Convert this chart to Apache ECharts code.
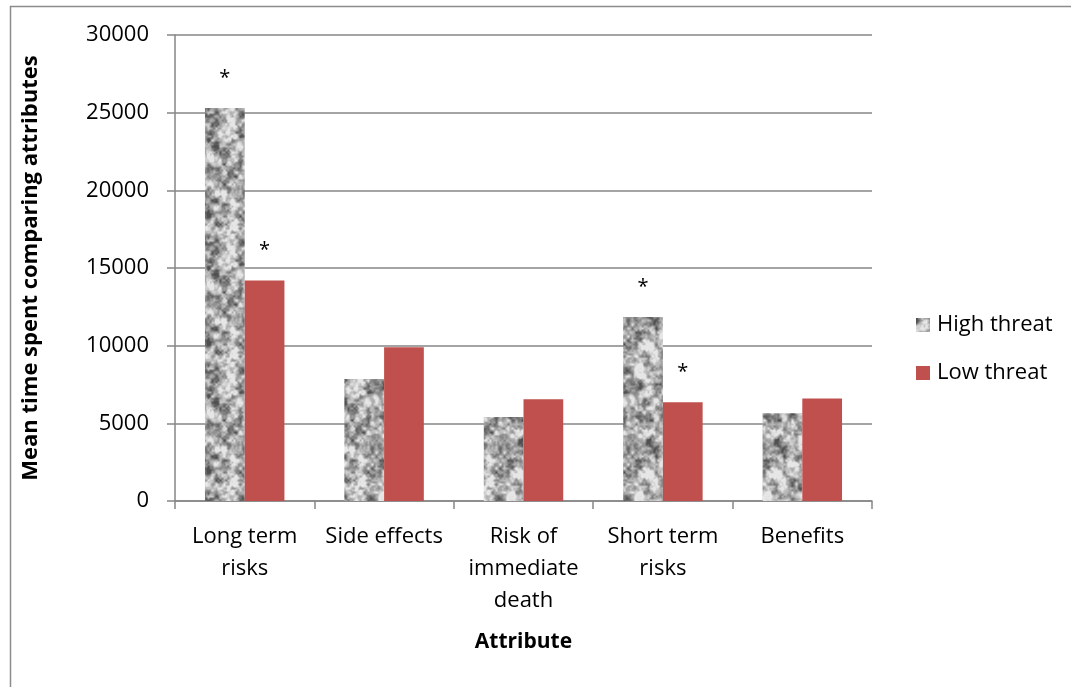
<!DOCTYPE html>
<html>
<head>
<meta charset="utf-8">
<script src="https://cdn.jsdelivr.net/npm/echarts@6/dist/echarts.min.js"></script>
<style>
  html, body { margin: 0; padding: 0; background: #fff; }
  #chart { width: 1071px; height: 687px; }
</style>
</head>
<body>
<div id="chart"></div>
<script>
// Attributes compared and mean comparison time per threat condition
const categories = ['Long term\nrisks', 'Side effects', 'Risk of\nimmediate\ndeath', 'Short term\nrisks', 'Benefits'];
const highThreat = [25300, 7850, 5400, 11850, 5650];
const lowThreat = [14200, 9900, 6550, 6350, 6600];
// Bars flagged as significant (drawn with an asterisk)
const highSignificant = [true, false, false, true, false];
const lowSignificant = [true, false, false, true, false];
const yTicks = { min: 0, max: 30000, interval: 5000 };

const FONT = '"Open Sans", "Noto Sans", sans-serif';

// Granite-like fill texture built from tileable value noise
function graniteTile(size) {
  const c = document.createElement('canvas');
  c.width = size; c.height = size;
  const ctx = c.getContext('2d');
  const img = ctx.createImageData(size, size);
  function hash(x, y, s) {
    let h = Math.imul(x + 17, 374761393) ^ Math.imul(y + 91, 668265263) ^ Math.imul(s, 1442695041);
    h = Math.imul(h ^ (h >>> 13), 1274126177);
    h = Math.imul(h ^ (h >>> 15), 2246822519);
    h = h ^ (h >>> 16);
    return (h >>> 0) / 4294967295;
  }
  function smooth(t) { return t * t * (3 - 2 * t); }
  function noise(px, py, cell, seed) {
    const n = size / cell;
    const gx = px / cell, gy = py / cell;
    const x0 = Math.floor(gx), y0 = Math.floor(gy);
    const fx = smooth(gx - x0), fy = smooth(gy - y0);
    const x1 = (x0 + 1) % n, y1 = (y0 + 1) % n;
    const a = hash(x0 % n, y0 % n, seed), b = hash(x1, y0 % n, seed);
    const cc = hash(x0 % n, y1, seed), d = hash(x1, y1, seed);
    return (a * (1 - fx) + b * fx) * (1 - fy) + (cc * (1 - fx) + d * fx) * fy;
  }
  for (let y = 0; y < size; y++) {
    for (let x = 0; x < size; x++) {
      let v = 0.45 * noise(x, y, 8, 1) + 0.35 * noise(x, y, 4, 2) + 0.2 * noise(x, y, 2, 3);
      v = (v - 0.5) * 2.0 + 0.58;
      v = Math.max(0, Math.min(1, v));
      const g = Math.round(80 + v * 150);
      const i = (y * size + x) * 4;
      img.data[i] = g; img.data[i + 1] = g; img.data[i + 2] = g; img.data[i + 3] = 255;
    }
  }
  ctx.putImageData(img, 0, 0);
  return c;
}
const granite = { image: graniteTile(128), repeat: 'repeat' };

function withStars(values, flags) {
  return values.map((v, i) => flags[i]
    ? { value: v, label: { show: true, formatter: '*', position: 'top', distance: 20,
        fontFamily: FONT, fontSize: 20, color: '#000' } }
    : v);
}

const chart = echarts.init(document.getElementById('chart'), null, { renderer: 'canvas' });
chart.setOption({
  backgroundColor: '#fff',
  animation: false,
  graphic: [{
    type: 'rect', left: 8, top: 4,
    shape: { width: 1100, height: 720 },
    style: { fill: 'none', stroke: '#8c8c8c', lineWidth: 1.5 },
    silent: true, z: -1
  }],
  grid: { left: 175, right: 199, top: 35, bottom: 186, containLabel: false },
  legend: {
    orient: 'vertical', left: 911, top: 308,
    itemWidth: 14, itemHeight: 14, itemGap: 24,
    icon: 'rect',
    textStyle: { fontFamily: FONT, fontSize: 22, color: '#000', lineHeight: 24, padding: [0, 0, 0, 2] },
    data: ['High threat', 'Low threat']
  },
  xAxis: {
    type: 'category', data: categories,
    name: 'Attribute', nameLocation: 'middle', nameGap: 131,
    nameTextStyle: { fontFamily: FONT, fontSize: 21, fontWeight: 'bold', color: '#000' },
    axisLine: { lineStyle: { color: '#868686', width: 1.5 } },
    axisTick: { show: true, length: 8, lineStyle: { color: '#868686', width: 1.5 } },
    axisLabel: { fontFamily: FONT, fontSize: 22, color: '#000', lineHeight: 32, margin: 20, interval: 0 }
  },
  yAxis: {
    type: 'value', min: yTicks.min, max: yTicks.max, interval: yTicks.interval,
    name: 'Mean time spent comparing attributes', nameLocation: 'middle', nameGap: 133,
    nameTextStyle: { fontFamily: FONT, fontSize: 22, fontWeight: 'bold', color: '#000' },
    axisLine: { show: true, lineStyle: { color: '#868686', width: 1.5 } },
    axisTick: { show: true, length: 8, lineStyle: { color: '#868686', width: 1.5 } },
    axisLabel: { fontFamily: FONT, fontSize: 22, color: '#000', margin: 26,
      formatter: v => String(v) },
    splitLine: { lineStyle: { color: '#868686', width: 1.5 } }
  },
  series: [
    {
      name: 'High threat', type: 'bar', barGap: '0%', barCategoryGap: '43%',
      itemStyle: { color: granite },
      data: withStars(highThreat, highSignificant)
    },
    {
      name: 'Low threat', type: 'bar', barGap: '0%', barCategoryGap: '43%',
      itemStyle: { color: '#C0504D' },
      data: withStars(lowThreat, lowSignificant)
    }
  ]
});
</script>
</body>
</html>
